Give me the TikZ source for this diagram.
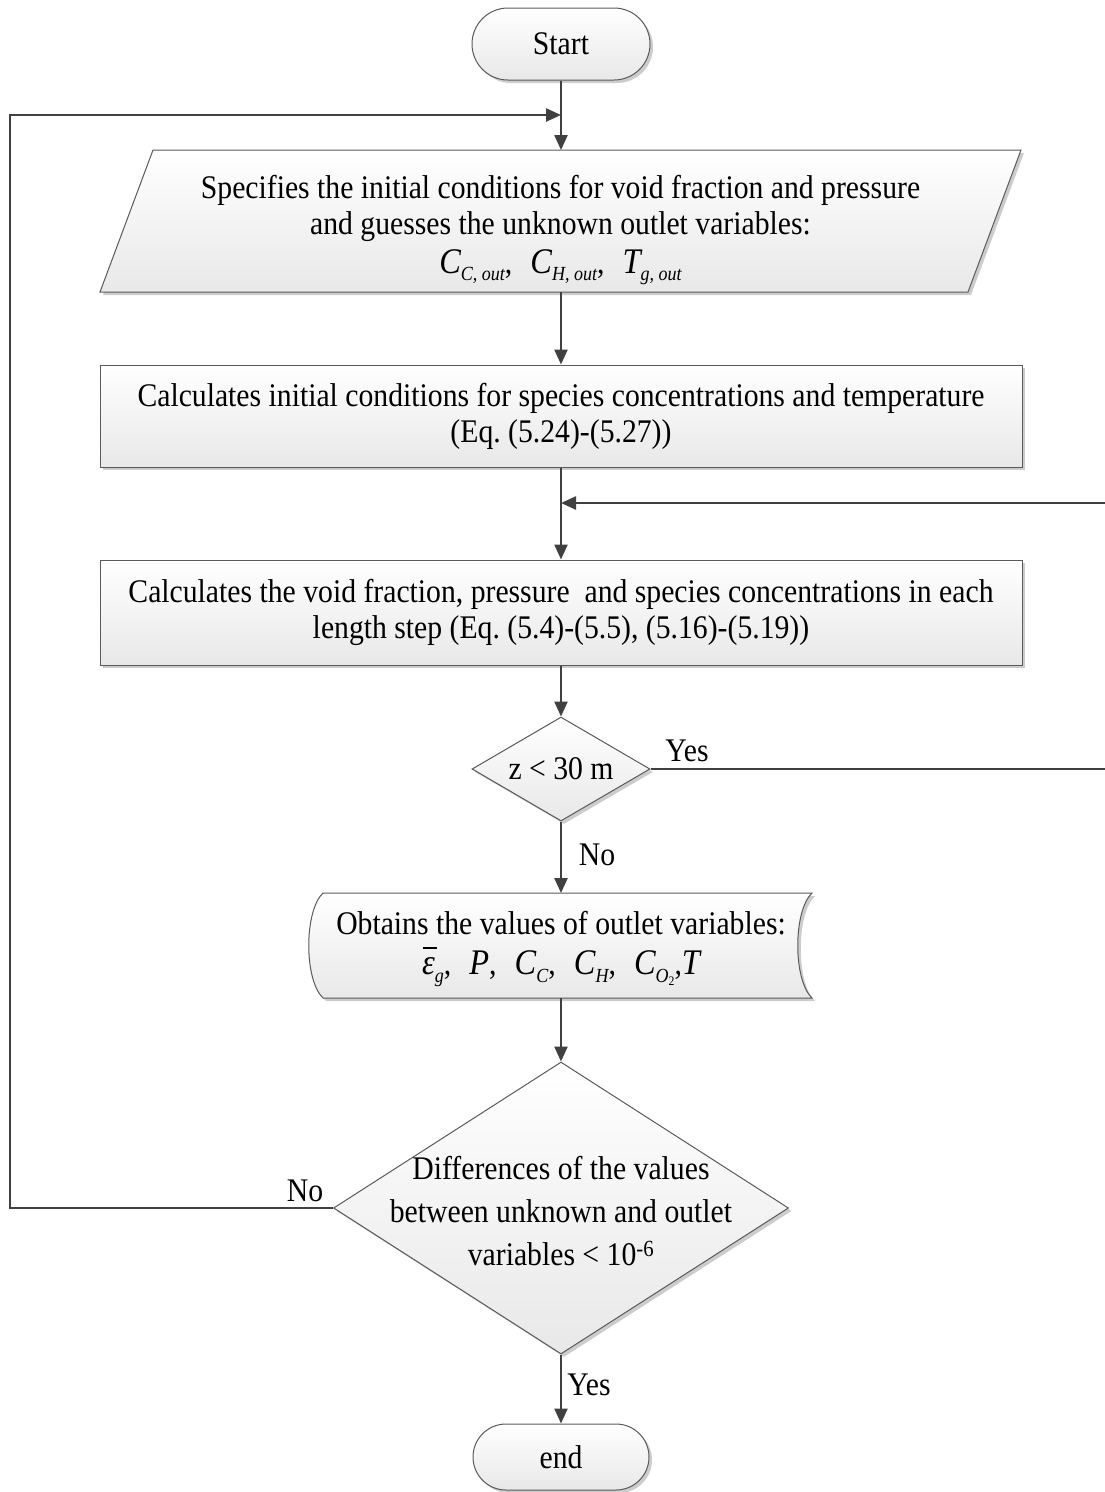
\documentclass[tikz,border=0pt]{standalone}
\usepackage{fontspec}
\setmainfont{Liberation Serif}[FakeStretch=0.9]
\usetikzlibrary{shapes.geometric,shapes.misc,shadows,arrows.meta,calc}
\definecolor{linec}{HTML}{404040}
\definecolor{edgec}{HTML}{5A5A5A}
\frenchspacing
\tikzset{
  boxfill/.style={draw=edgec, line width=1pt, top color=white, bottom color=black!9,
    drop shadow={shadow xshift=3pt, shadow yshift=-3pt, fill=black!20, opacity=1}},
  flow/.style={draw=linec, line width=2.4pt, -{Triangle[length=15pt,width=13pt]}},
  txt/.style={font=\fontsize{33}{36}\selectfont, align=center, inner sep=0pt},
  lbl/.style={font=\fontsize{33}{36}\selectfont, inner sep=0pt},
  ghost/.style={inner sep=0pt, outer sep=0pt},
}
\newcommand{\vr}[1]{{\fontsize{36}{36}\selectfont\itshape #1}}
\newcommand{\sbs}[1]{\raisebox{-0.5ex}{\fontsize{20}{20}\selectfont\itshape #1}}
\newcommand{\gp}{\hspace{0.55em}}
\newcommand{\epsbar}{\makebox[0pt][l]{\hspace{0.04em}\raisebox{0.78em}{\rule{0.42em}{1.6pt}}}\vr{ε}}
\begin{document}
\begin{tikzpicture}[x=1pt,y=-1pt]
\useasboundingbox (0,0) rectangle (1105,1492);

% Start
\node[rounded rectangle, boxfill, minimum width=178pt, minimum height=72pt, txt] (start) at (561,44) {Start};

% Parallelogram (input)
\node[ghost, minimum width=921pt, minimum height=142pt] (par) at (560.5,221) {};
\path[boxfill] (par.south west) -- ($(par.north west)+(53,0)$) -- (par.north east) -- ($(par.south east)+(-53,0)$) -- cycle;
\node[txt] (partext) at (560.5,230) {Specifies the initial conditions for void fraction and pressure\\
and guesses the unknown outlet variables:\\[3pt]
\vr{C}\sbs{C, out},\gp\vr{C}\sbs{H, out},\gp\vr{T}\sbs{g, out}};

% Process 1
\node[rectangle, boxfill, minimum width=922pt, minimum height=102pt, txt] (calc1) at (561,416)
  {Calculates initial conditions for species concentrations and temperature\\(Eq. (5.24)-(5.27))};

% Process 2
\node[rectangle, boxfill, minimum width=922pt, minimum height=105pt, txt] (calc2) at (561,612.5)
  {Calculates the void fraction, pressure\ \ and species concentrations in each\\length step (Eq. (5.4)-(5.5), (5.16)-(5.19))};

% Decision 1
\node[diamond, boxfill, minimum width=178pt, minimum height=104pt, inner sep=0pt] (d1) at (561,769) {};
\node[txt] (d1text) at (d1) {z < 30 m};

% Stored-data shaped output
\node[ghost, minimum width=503pt, minimum height=105pt] (disp) at (560.5,945.5) {};
\path[boxfill] (323,893) -- (812,893) .. controls (793,911) and (793,980) .. (812,998)
  -- (323,998) .. controls (304,980) and (304,911) .. (323,893) -- cycle;
\node[txt] (disptext) at (561,949) {Obtains the values of outlet variables:\\[4pt]
\epsbar\sbs{g},\gp\vr{P},\gp\vr{C}\sbs{C},\gp\vr{C}\sbs{H},\gp\vr{C}\sbs{O\raisebox{-0.4ex}{\fontsize{13}{13}\selectfont\upshape 2}},\vr{T}};

% Decision 2
\node[diamond, boxfill, minimum width=455pt, minimum height=292pt, inner sep=0pt] (d2) at (561,1208) {};
\node[txt, font=\fontsize{33}{43}\selectfont] (d2text) at (561,1211) {Differences of the values\\between unknown and outlet\\variables < 10\textsuperscript{-6}};

% End
\node[rounded rectangle, boxfill, minimum width=176pt, minimum height=66pt, txt] (end) at (561,1457) {end};

% Connectors
\coordinate (lefttop) at (10,115);
\coordinate (righttop) at (1108,503);
\draw[flow] (start.south) -- (start.south |- par.north);
\draw[flow] (d2.west) -| (lefttop) -- (start.south |- lefttop);
\draw[flow] (calc1.north |- par.south) -- (calc1.north);
\draw[flow] (calc1) -- (calc2);
\draw[flow] (d1.east) -| (righttop) -- (calc1.south |- righttop);
\draw[flow] (calc2) -- (d1);
\draw[flow] (d1.south) -- (d1.south |- disp.north);
\draw[flow] (d2.north |- disp.south) -- (d2.north);
\draw[flow] (d2) -- (end);

% Labels
\node[lbl] (yes1) at (687,751) {Yes};
\node[lbl] (no1) at (597,855) {No};
\node[lbl] (no2) at (305,1191) {No};
\node[lbl] (yes2) at (589,1385) {Yes};
\end{tikzpicture}
\end{document}
